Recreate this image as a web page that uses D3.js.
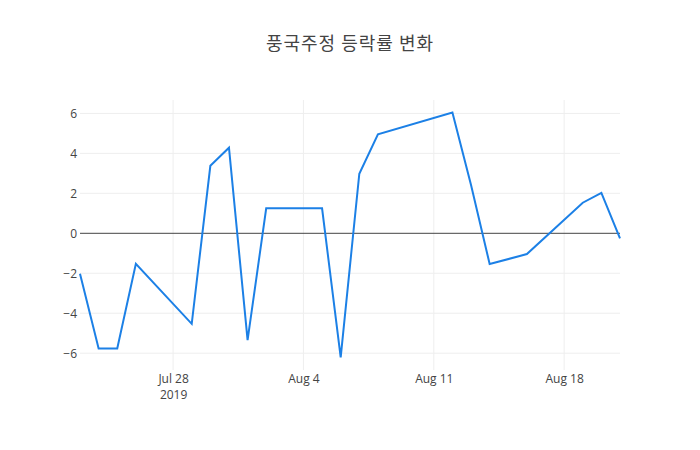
<!DOCTYPE html>
<html>
<head>
<meta charset="utf-8">
<script src="https://cdn.jsdelivr.net/npm/d3@7"></script>
<style>
  body { margin: 0; background: #fff; }
  svg { font-family: "Open Sans", "Noto Sans CJK KR", sans-serif; }
</style>
</head>
<body>
<div id="chart"></div>
<script>
// data
const dates = ['2019-07-23', '2019-07-24', '2019-07-25', '2019-07-26', '2019-07-29',
    '2019-07-30', '2019-07-31', '2019-08-01', '2019-08-02', '2019-08-05',
    '2019-08-06', '2019-08-07', '2019-08-08', '2019-08-12', '2019-08-13',
    '2019-08-14', '2019-08-16', '2019-08-19', '2019-08-20', '2019-08-21'];
const changes = [-2.03, -5.76, -5.76, -1.53, -4.53,
    3.38, 4.28, -5.35, 1.25, 1.25,
    -6.21, 2.98, 4.95, 6.04, 2.42,
    -1.54, -1.04, 1.53, 2.02, -0.25];
const yTicks = [-6, -4, -2, 0, 2, 4, 6];
const xTicks = ['2019-07-28', '2019-08-04', '2019-08-11', '2019-08-18'];
const title = '풍국주정 등락률 변화';

const config = {
    width: 700,
    height: 450,
    margin: {top: 100, right: 80, bottom: 80, left: 80}
};

const parse = d3.timeParse('%Y-%m-%d');
const data = dates.map((d, i) => ({date: parse(d), value: changes[i]}));

const width = config.width - config.margin.left - config.margin.right;
const height = config.height - config.margin.top - config.margin.bottom;

const svg = d3.select('#chart')
    .append('svg')
    .attr('width', config.width)
    .attr('height', config.height);

const chart = svg.append('g')
    .attr('transform', `translate(${config.margin.left},${config.margin.top})`);

// x runs exactly over the data, y gets a little padding like plotly autorange
const x = d3.scaleTime()
    .domain(d3.extent(data, d => d.date))
    .range([0, width]);

const yExt = d3.extent(data, d => d.value);
const pad = (yExt[1] - yExt[0]) * 0.0515;
const y = d3.scaleLinear()
    .domain([yExt[0] - pad, yExt[1] + pad])
    .range([height, 0]);

// grid
chart.append('g')
    .selectAll('line')
    .data(yTicks.filter(t => t !== 0))
    .join('line')
    .attr('x1', 0).attr('x2', width)
    .attr('y1', d => y(d)).attr('y2', d => y(d))
    .attr('stroke', '#eee');

chart.append('g')
    .selectAll('line')
    .data(xTicks.map(parse))
    .join('line')
    .attr('x1', d => x(d)).attr('x2', d => x(d))
    .attr('y1', 0).attr('y2', height)
    .attr('stroke', '#eee');

// y axis labels
const yAxis = chart.append('g')
    .call(d3.axisLeft(y).tickValues(yTicks).tickSize(0).tickPadding(3)
        .tickFormat(d => d3.format('d')(d).replace('-', '\u2212')));
yAxis.select('.domain').remove();
yAxis.selectAll('text')
    .attr('font-size', 12)
    .attr('font-family', '"Open Sans", sans-serif')
    .attr('fill', '#444');

// x axis labels
const xAxis = chart.append('g')
    .attr('transform', `translate(0,${height})`)
    .call(d3.axisBottom(x).tickValues(xTicks.map(parse)).tickSize(0).tickPadding(4)
        .tickFormat(d3.timeFormat('%b %-d')));
xAxis.select('.domain').remove();
xAxis.selectAll('text')
    .attr('font-size', 12)
    .attr('font-family', '"Open Sans", sans-serif')
    .attr('fill', '#444');
xAxis.selectAll('.tick')
    .filter((d, i) => i === 0)
    .append('text')
    .attr('y', 20)
    .attr('dy', '0.71em')
    .attr('text-anchor', 'middle')
    .attr('font-size', 12)
    .attr('font-family', '"Open Sans", sans-serif')
    .attr('fill', '#444')
    .text('2019');

// zero line
chart.append('line')
    .attr('x1', 0).attr('x2', width)
    .attr('y1', y(0)).attr('y2', y(0))
    .attr('stroke', '#444')
    .attr('stroke-width', 1);

// the line itself
const line = d3.line()
    .x(d => x(d.date))
    .y(d => y(d.value));

chart.append('path')
    .datum(data)
    .attr('d', line)
    .attr('fill', 'none')
    .attr('stroke', '#1c80e6')
    .attr('stroke-width', 2)
    .attr('stroke-linejoin', 'miter');

// title
svg.append('text')
    .attr('x', config.width / 2)
    .attr('y', 50)
    .attr('text-anchor', 'middle')
    .attr('font-size', 18)
    .attr('letter-spacing', 1)
    .attr('font-family', '"Noto Sans CJK KR", sans-serif')
    .attr('fill', '#444')
    .text(title);
</script>
</body>
</html>
